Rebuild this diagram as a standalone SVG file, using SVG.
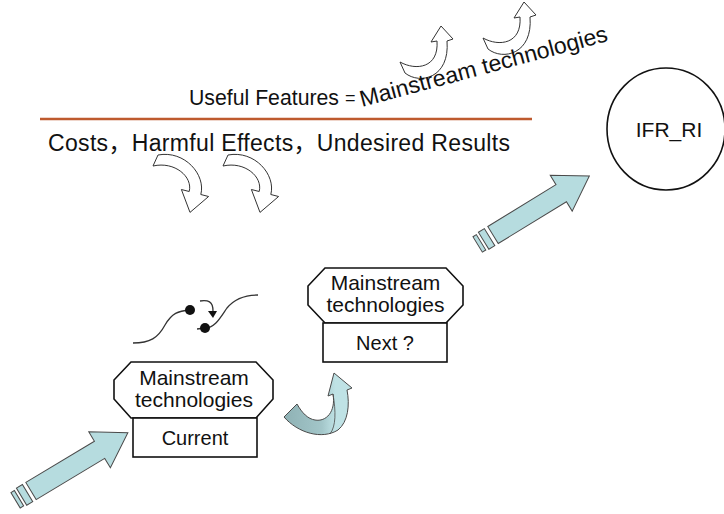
<svg xmlns="http://www.w3.org/2000/svg" width="724" height="514" viewBox="0 0 724 514">
  <style>
    .t { font-family: "Liberation Sans", "Noto Sans CJK SC", Arial, sans-serif; fill: #111; }
    .box { fill: #fff; stroke: #111; stroke-width: 1.6; }
    .outline { fill: #fff; stroke: #333; stroke-width: 1; }
    .block { fill: #B6DCDF; stroke: #4a4a4a; stroke-width: 1; }
    .wire { fill: none; stroke: #333; stroke-width: 1.3; }
  </style>
  <defs>
    <g id="blockArrow">
      <path class="block" d="M0,-10 L80,-10 L80,-21 L113,0 L80,21 L80,10 L0,10 Z"/>
      <rect class="block" x="-11" y="-10" width="7" height="20"/>
      <rect class="block" x="-18" y="-9" width="4" height="18"/>
    </g>
    <path id="downCurl" d="M158,155 C185,150 206,175 200.8,194.5 L208.6,196.5 L190,212.4 L181.4,189.5 L189.2,191.5 C193,177 175,161 153,166 Z"/>
    <path id="upCurl" d="M400,62 L405,73 C420,85 450,78 447,41 L453,39 L441,26 L431,42 L437,41 C439,68 416,71 400,62 Z"/>
    <linearGradient id="curlGrad" x1="285" y1="0" x2="352" y2="0" gradientUnits="userSpaceOnUse">
      <stop offset="0" stop-color="#8FB2B5"/>
      <stop offset="0.55" stop-color="#A3C6C9"/>
      <stop offset="0.75" stop-color="#BFE2E5"/>
      <stop offset="1" stop-color="#BFE2E5"/>
    </linearGradient>
  </defs>

  <g id="decor-curls">
    <use href="#downCurl" class="outline"/>
    <use href="#downCurl" class="outline" transform="translate(70,0)"/>
    <use href="#upCurl" class="outline"/>
    <use href="#upCurl" class="outline" transform="translate(83,-24)"/>
  </g>

  <g id="header">
    <text class="t" x="189" y="105" font-size="22" textLength="150" lengthAdjust="spacingAndGlyphs">Useful Features</text>
    <text class="t" x="345" y="104" font-size="18">=</text>
    <text class="t" x="362" y="107" font-size="23" transform="rotate(-15 362 107)">Mainstream technologies</text>
    <line x1="40" y1="119" x2="532" y2="119" stroke="#BE5A2E" stroke-width="2.5"/>
    <text class="t" x="48" y="151" font-size="23" textLength="462" lengthAdjust="spacing">Costs，Harmful Effects，Undesired Results</text>
  </g>

  <g id="node-ifr">
    <ellipse cx="666" cy="129" rx="59" ry="61" fill="#fff" stroke="#111" stroke-width="1.6"/>
    <text class="t" x="669" y="137" font-size="21" text-anchor="middle">IFR_RI</text>
  </g>

  <g id="node-current">
    <polygon class="box" points="131,362 256,362 273,380 273,399 256,418 131,418 114,399 114,380"/>
    <rect class="box" x="133" y="418" width="124" height="39"/>
    <text class="t" x="194" y="385" font-size="21" text-anchor="middle">Mainstream</text>
    <text class="t" x="194" y="407" font-size="21" text-anchor="middle">technologies</text>
    <text class="t" x="195" y="445" font-size="20" text-anchor="middle">Current</text>
  </g>

  <g id="node-next">
    <polygon class="box" points="325,268 446,268 463,286 463,305 446,323 325,323 308,305 308,286"/>
    <rect class="box" x="323" y="323" width="124" height="39"/>
    <text class="t" x="385.5" y="290" font-size="21" text-anchor="middle">Mainstream</text>
    <text class="t" x="385.5" y="312" font-size="21" text-anchor="middle">technologies</text>
    <text class="t" x="385" y="350" font-size="20" text-anchor="middle">Next ?</text>
  </g>

  <g id="node-jump">
    <path class="wire" d="M133,343 C150,343 158,338 165,325 C172,313 178,311 190,310"/>
    <circle cx="190" cy="310" r="5" fill="#111"/>
    <path class="wire" d="M197,329 L205,328 C215,328 220,318 227,308 C235,298 245,295 258,295"/>
    <circle cx="205" cy="328" r="5" fill="#111"/>
    <path class="wire" d="M200,301 C208,300 213,301 213,311"/>
    <polygon points="208,311 217,311 213,318" fill="#111"/>
  </g>

  <g id="connectors">
    <use href="#blockArrow" transform="translate(31 491) rotate(-31)"/>
    <use href="#blockArrow" transform="translate(493 235) rotate(-31.5)"/>
    <path d="M297,404 L284,417 C298,433 322,440 338,430 C348,422 350,405 347,390 L352,388 L334,373 L328,396 L333,394 C336,412 326,422 315,420 C308,419 302,413 297,404 Z" fill="url(#curlGrad)" stroke="#4a4a4a" stroke-width="1"/>
    <path d="M333,394 C336,412 336,426 330,434" fill="none" stroke="#4a4a4a" stroke-width="0.8"/>
  </g>
</svg>
